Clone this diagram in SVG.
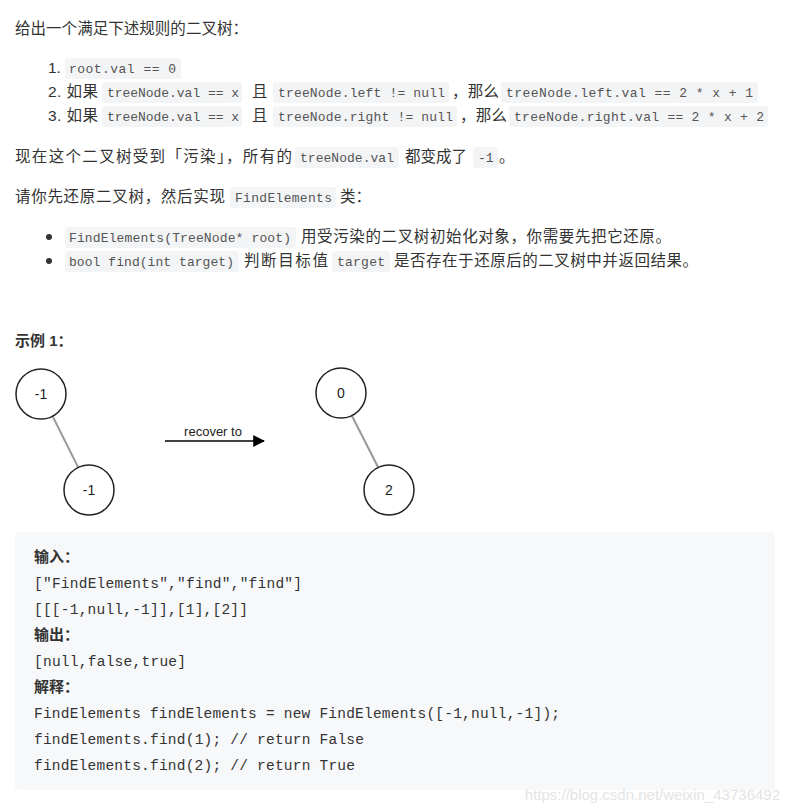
<svg xmlns="http://www.w3.org/2000/svg" width="790" height="812" viewBox="0 0 790 812">
<style>
.t{font-family:"Liberation Sans","Noto Sans CJK SC",sans-serif;font-size:15.5px;fill:#333}
.b{font-weight:bold}
.c{font-family:"Liberation Mono","DejaVu Sans Mono",monospace;font-size:13px;fill:#555}
.cb{fill:#f3f4f6}
.n{fill:#fff;stroke:#222;stroke-width:1.5}
.nl{font-family:"Liberation Sans",sans-serif;font-size:14px;fill:#222;text-anchor:middle}
.cc{font-family:"Liberation Mono","DejaVu Sans Mono",monospace;font-size:14.5px;fill:#333}
</style>
<defs><marker id="ah" viewBox="0 0 10 10" refX="9" refY="5" markerWidth="8" markerHeight="8" orient="auto"><path d="M0,0 L10,5 L0,10 Z" fill="#000"/></marker></defs>
<rect width="790" height="812" fill="#fff"/>
<text class="t" x="15" y="34" textLength="233">给出一个满足下述规则的二叉树：</text>
<g>
<rect class="cb" x="65" y="58" width="116" height="21" rx="3"/>
<text class="t" x="48" y="73">1.</text>
<text class="c" x="69" y="73" textLength="107">root.val == 0</text>
<text class="t" x="48" y="97" textLength="50">2. 如果</text>
<rect class="cb" x="102" y="82" width="140" height="21" rx="3"/>
<text class="c" x="107" y="97" textLength="132">treeNode.val == x</text>
<text class="t" x="252" y="97">且</text>
<rect class="cb" x="273" y="82" width="176" height="21" rx="3"/>
<text class="c" x="278" y="97" textLength="167">treeNode.left != null</text>
<text class="t" x="452" y="97" textLength="47">，那么</text>
<rect class="cb" x="501" y="82" width="257" height="21" rx="3"/>
<text class="c" x="506" y="97" textLength="247">treeNode.left.val == 2 * x + 1</text>
<text class="t" x="48" y="121" textLength="50">3. 如果</text>
<rect class="cb" x="102" y="106" width="140" height="21" rx="3"/>
<text class="c" x="107" y="121" textLength="132">treeNode.val == x</text>
<text class="t" x="252" y="121">且</text>
<rect class="cb" x="273" y="106" width="184" height="21" rx="3"/>
<text class="c" x="278" y="121" textLength="175">treeNode.right != null</text>
<text class="t" x="460" y="121" textLength="47">，那么</text>
<rect class="cb" x="509" y="106" width="259" height="21" rx="3"/>
<text class="c" x="514" y="121" textLength="250">treeNode.right.val == 2 * x + 2</text>
</g>
<text class="t" x="15" y="162" textLength="277">现在这个二叉树受到「污染」，所有的</text>
<rect class="cb" x="295" y="147" width="104" height="21" rx="3"/>
<text class="c" x="300" y="162" textLength="94">treeNode.val</text>
<text class="t" x="405" y="162" textLength="62">都变成了</text>
<rect class="cb" x="473" y="147" width="25" height="21" rx="3"/>
<text class="c" x="478" y="162">-1</text>
<text class="t" x="499" y="162">。</text>
<text class="t" x="15" y="202" textLength="210">请你先还原二叉树，然后实现</text>
<rect class="cb" x="230" y="187" width="106" height="21" rx="3"/>
<text class="c" x="235" y="202" textLength="97">FindElements</text>
<text class="t" x="340" y="202">类：</text>
<circle cx="49" cy="237" r="3" fill="#333"/>
<rect class="cb" x="65" y="227" width="231" height="21" rx="3"/>
<text class="c" x="69" y="242" textLength="222">FindElements(TreeNode* root)</text>
<text class="t" x="301" y="242" textLength="370">用受污染的二叉树初始化对象，你需要先把它还原。</text>
<circle cx="49" cy="261" r="3" fill="#333"/>
<rect class="cb" x="65" y="251" width="174" height="21" rx="3"/>
<text class="c" x="69" y="266" textLength="165">bool find(int target)</text>
<text class="t" x="244" y="266" textLength="84">判断目标值</text>
<rect class="cb" x="332" y="251" width="58" height="21" rx="3"/>
<text class="c" x="337" y="266" textLength="48">target</text>
<text class="t" x="394" y="266" textLength="304">是否存在于还原后的二叉树中并返回结果。</text>
<text class="t b" x="15" y="346" style="font-size:15px">示例 1：</text>
<g id="connectors" stroke="#999" stroke-width="2">
<line x1="53" y1="417" x2="78" y2="467"/>
<line x1="352" y1="416" x2="378" y2="467"/>
<line x1="165" y1="441" x2="264" y2="441" stroke="#000" stroke-width="1.5" marker-end="url(#ah)"/>
</g>
<text x="213" y="436" text-anchor="middle" style="font-family:'Liberation Sans',sans-serif;font-size:13px;fill:#222">recover to</text>
<g id="n1"><circle class="n" cx="41" cy="394" r="25"/><text class="nl" x="41" y="399">-1</text></g>
<g id="n2"><circle class="n" cx="89" cy="490" r="25"/><text class="nl" x="89" y="495">-1</text></g>
<g id="n3"><circle class="n" cx="341" cy="393" r="25"/><text class="nl" x="341" y="398">0</text></g>
<g id="n4"><circle class="n" cx="389" cy="490" r="25"/><text class="nl" x="389" y="495">2</text></g>
<rect x="15" y="532" width="760" height="258" rx="4" fill="#f7f8fa"/>
<text class="t b" x="34" y="562" style="font-size:15px">输入：</text>
<text class="cc" x="34" y="588" textLength="268">["FindElements","find","find"]</text>
<text class="cc" x="34" y="614" textLength="214">[[[-1,null,-1]],[1],[2]]</text>
<text class="t b" x="34" y="640" style="font-size:15px">输出：</text>
<text class="cc" x="34" y="666" textLength="152">[null,false,true]</text>
<text class="t b" x="34" y="692" style="font-size:15px">解释：</text>
<text class="cc" x="34" y="718" textLength="526">FindElements findElements = new FindElements([-1,null,-1]);</text>
<text class="cc" x="34" y="744" textLength="330">findElements.find(1); // return False</text>
<text class="cc" x="34" y="770" textLength="321">findElements.find(2); // return True</text>
<text x="780" y="800" text-anchor="end" style="font-family:'Liberation Sans',sans-serif;font-size:15px;fill:#e4e4e4">https://blog.csdn.net/weixin_43736492</text>
</svg>
